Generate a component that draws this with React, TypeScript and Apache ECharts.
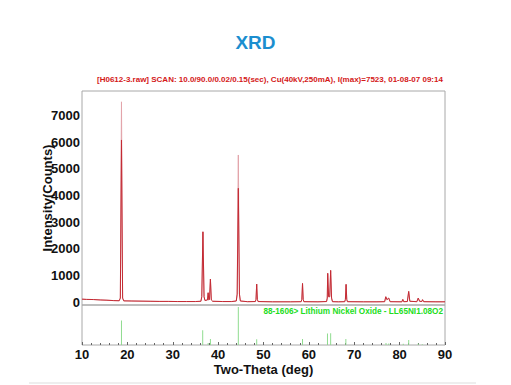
import React, { useEffect, useRef } from "react";
import * as echarts from "echarts";

// Measured pattern (two-theta in degrees, intensity in counts)
const rawTheta = [
  10.0, 11.0, 12.5, 14.0, 15.5, 17.0, 18.2, 18.45, 18.7, 18.95, 19.2, 21.0, 23.0, 25.0, 27.0, 29.0, 31.0,
  33.0, 35.0, 36.2, 36.4, 36.65, 36.9, 37.1, 37.65, 37.8, 37.95, 38.1, 38.3, 38.5, 38.8, 41.0, 43.0,
  44.0, 44.2, 44.45, 44.7, 44.9, 46.5, 48.2, 48.35, 48.5, 48.65, 48.8, 52.0, 56.0, 58.3, 58.45, 58.6,
  58.75, 58.9, 62.0, 63.9, 64.05, 64.15, 64.35, 64.6, 64.8, 65.0, 65.2, 66.5, 67.9, 68.05, 68.2, 68.35,
  68.5, 72.0, 75.0, 76.7, 76.95, 77.2, 77.6, 77.9, 80.5, 80.7, 80.9, 81.7, 82.0, 82.25, 83.8, 84.1,
  84.4, 84.9, 85.05, 85.3, 88.0, 90.0,
];
const rawCounts = [
  110, 100, 95, 80, 70, 55, 50, 150, 7523, 150, 45, 40, 35, 30, 25, 25, 20,
  20, 20, 30, 200, 2640, 200, 60, 80, 350, 80, 100, 865, 80, 30, 20, 20,
  40, 300, 5526, 300, 40, 15, 20, 100, 675, 100, 20, 10, 10, 15, 100, 700,
  100, 15, 10, 20, 150, 1080, 200, 200, 1190, 150, 15, 10, 15, 100, 665, 100,
  15, 10, 10, 15, 200, 90, 150, 15, 10, 100, 15, 20, 400, 30, 15, 150,
  30, 20, 90, 15, 10, 10,
];
// Heights reached by the darker (inner) trace on the two tallest reflections
const innerTopTheta = [18.7, 44.45];
const innerTopCounts = [6090, 4275];

// Reference pattern: 88-1606 Lithium Nickel Oxide (relative intensity, %)
const stickTheta = [18.7, 36.6, 37.8, 38.3, 44.45, 48.5, 58.6, 64.1, 64.8, 68.15, 77.0, 77.6, 80.8, 82.0, 84.1, 85.0];
const stickIntensity = [64, 39, 5, 16, 100, 15, 16, 30, 31, 16, 5, 4, 3, 13, 4, 2];

const yTickValues = [0, 1000, 2000, 3000, 4000, 5000, 6000, 7000];

const titleText = "XRD";
const scanText =
  "[H0612-3.raw] SCAN: 10.0/90.0/0.02/0.15(sec), Cu(40kV,250mA), I(max)=7523, 01-08-07 09:14";
const phaseText = "88-1606> Lithium Nickel Oxide - LL65NI1.08O2";

const FONT = "Arial, 'Liberation Sans', sans-serif";

export default function App() {
  const ref = useRef<HTMLDivElement>(null);

  useEffect(() => {
    if (!ref.current) return;
    const chart = echarts.init(ref.current, undefined, { renderer: "svg" });

    const rawData = rawTheta.map((t, i) => [t, rawCounts[i]]);
    const innerData = rawTheta.map((t, i) => {
      const k = innerTopTheta.indexOf(t);
      return [t, k >= 0 ? innerTopCounts[k] : rawCounts[i]];
    });
    const stickData = stickTheta.map((t, i) => [t, stickIntensity[i]]);

    chart.setOption({
      animation: false,
      backgroundColor: "#ffffff",
      title: [
        {
          text: titleText,
          left: "center",
          top: 28,
          textStyle: { color: "#1b8ecf", fontSize: 19, fontWeight: "bold", fontFamily: FONT },
        },
      ],
      graphic: [
        {
          type: "text",
          left: 97,
          top: 75,
          style: { text: scanText, fill: "#d41818", font: `bold 8px ${FONT}` },
        },
        {
          type: "text",
          right: 68,
          top: 307,
          style: { text: phaseText, fill: "#22dd22", font: `bold 8.2px ${FONT}` },
        },
        {
          type: "line",
          shape: { x1: 29, y1: 383, x2: 476, y2: 383 },
          style: { stroke: "#eeeeee", lineWidth: 2 },
        },
      ],
      grid: [
        { left: 82, right: 66, top: 91, height: 214, show: true, borderColor: "#a8a8a8", borderWidth: 1 },
        { left: 82, right: 66, top: 305, height: 40, show: true, borderColor: "#a8a8a8", borderWidth: 1 },
      ],
      xAxis: [
        {
          gridIndex: 0,
          type: "value",
          min: 10,
          max: 90,
          axisLabel: { show: false },
          axisTick: { show: false },
          axisLine: { show: false },
          splitLine: { show: false },
        },
        {
          gridIndex: 1,
          type: "value",
          min: 10,
          max: 90,
          interval: 10,
          axisLine: { show: false },
          axisTick: { show: true, inside: true, length: 3, lineStyle: { color: "#666" } },
          minorTick: { show: true, splitNumber: 5, length: 2, lineStyle: { color: "#666" } },
          splitLine: { show: false },
          axisLabel: { fontSize: 13, fontWeight: "bold", color: "#111", margin: 3, fontFamily: FONT },
          name: "Two-Theta (deg)",
          nameLocation: "middle",
          nameGap: 18,
          nameMoveOverlap: false,
          nameTextStyle: { fontSize: 13, fontWeight: "bold", color: "#111", fontFamily: FONT },
        },
      ],
      yAxis: [
        {
          gridIndex: 0,
          type: "value",
          min: -110,
          max: 7930,
          axisLine: { show: false },
          axisTick: { show: false },
          splitLine: { show: false },
          axisLabel: {
            customValues: yTickValues,
            formatter: (v: number) => String(v),
            fontSize: 13,
            fontWeight: "bold",
            color: "#111",
            margin: 2,
            fontFamily: FONT,
          },
          name: "Intensity(Counts)",
          nameLocation: "middle",
          nameGap: 28,
          nameMoveOverlap: false,
          nameTextStyle: { fontSize: 13, fontWeight: "bold", color: "#111", fontFamily: FONT },
        },
        {
          gridIndex: 1,
          type: "value",
          min: 0,
          max: 105,
          show: false,
          splitLine: { show: false },
        },
      ],
      series: [
        {
          type: "line",
          xAxisIndex: 0,
          yAxisIndex: 0,
          data: rawData,
          showSymbol: false,
          lineStyle: { color: "#e3a4aa", width: 1 },
          z: 2,
        },
        {
          type: "line",
          xAxisIndex: 0,
          yAxisIndex: 0,
          data: innerData,
          showSymbol: false,
          lineStyle: { color: "#c42a33", width: 1 },
          z: 3,
        },
        {
          type: "bar",
          xAxisIndex: 1,
          yAxisIndex: 1,
          data: stickData,
          barWidth: 1,
          itemStyle: { color: "#8fdc8f" },
        },
      ],
    });

    return () => chart.dispose();
  }, []);

  return (
    <div
      ref={ref}
      style={{ position: "fixed", left: 0, top: 0, width: 511, height: 385 }}
    />
  );
}
